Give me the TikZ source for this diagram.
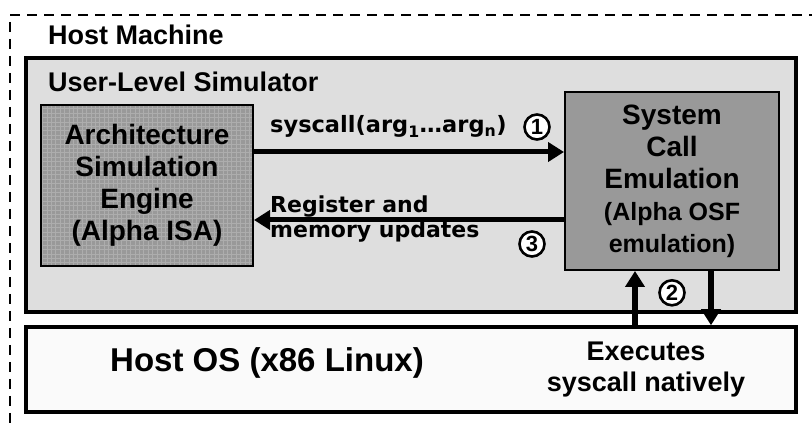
\documentclass[tikz,border=0pt]{standalone}
\usepackage{fontspec}
\setmainfont{Liberation Sans}
\newfontfamily\wideface{DejaVu Sans}
\usetikzlibrary{arrows.meta, positioning}
\tikzstyle{layer}=[draw, line width=3.5pt, inner sep=0pt]
\tikzstyle{unit}=[draw, line width=2pt, fill=black!40, inner sep=0pt, align=center, font=\bfseries\fontsize{28}{32}\selectfont]
\tikzstyle{numbered}=[circle, draw, line width=2.6pt, fill=white, minimum size=25pt, inner sep=0pt, font=\bfseries\fontsize{22}{22}\selectfont]
\tikzstyle{flow}=[line width=5pt, -{Triangle[length=16pt, width=19pt]}]
\tikzstyle{title}=[anchor=base west, inner sep=0pt, font=\bfseries\fontsize{27}{30}\selectfont]
\tikzstyle{flowlabel}=[inner sep=0pt, font=\wideface\bfseries\fontsize{22}{25}\selectfont]

\begin{document}
\begin{tikzpicture}[x=1pt, y=-1pt]
  \useasboundingbox (0,0) rectangle (812,430);
  \clip (0,0) rectangle (812,430);
  % machine boundary
  \draw[line width=2pt, dash pattern=on 10pt off 7pt] (10,15) -- (830,15);
  \draw[line width=2pt, dash pattern=on 10pt off 7pt] (10,22) -- (10,450);
  \node[title] (hm) at (48,45) {Host Machine};

  \node[layer, fill=black!13, minimum width=770pt, minimum height=254pt] (sim) at (411,185) {};
  \node[title] (simtxt) at (48,92) {User-Level Simulator};

  \node[unit, minimum width=212pt, minimum height=161pt,
        path picture={\draw[black!32, line width=0.5pt, step=4.4pt]
          (path picture bounding box.south west) grid (path picture bounding box.north east);}]
        (ase) at (147,185.5) {Architecture\\Simulation\\Engine\\(Alpha ISA)};
  \node[unit, minimum width=214pt, minimum height=178pt] (sce) at (672,181)
        {System\\Call\\Emulation\\{\fontsize{25}{31}\selectfont (Alpha OSF}\\{\fontsize{25}{31}\selectfont emulation)}};

  \node[layer, fill=black!2, minimum width=770pt, minimum height=85pt] (hostos) at (411,369.5) {};
  \node[anchor=base, inner sep=0pt, font=\bfseries\fontsize{33}{36}\selectfont] (ostxt) at (267,372) {Host OS (x86 Linux)};
  \node[align=center, inner sep=0pt, font=\bfseries\fontsize{27}{31}\selectfont] (exec) at (646,370) {Executes\\syscall natively};

  % syscall out and results back
  \draw[flow] ([yshift=33.5pt]ase.east) -- ([yshift=33.5pt]ase.east -| sce.west);
  \draw[flow] ([yshift=-34.5pt]ase.east -| sce.west) -- ([yshift=-34.5pt]ase.east);
  \node[flowlabel, anchor=base west, font=\wideface\bfseries\fontsize{22.5}{25}\selectfont] (args) at (270,133)
        {syscall(arg\textsubscript{1}…arg\textsubscript{n})};
  \node[flowlabel, anchor=north west, align=left] (upd) at (270,196) {Register and\\memory updates};

  % native execution on the host
  \draw[flow, line width=6pt] ([xshift=-37pt]sce.south |- hostos.north) -- ([xshift=-37pt]sce.south);
  \draw[flow, line width=6pt] ([xshift=39pt]sce.south) -- ([xshift=39pt]sce.south |- hostos.north);

  \node[numbered] (n1) at (537,127) {1};
  \node[numbered, below=8pt of sce] (n2) {2};
  \node[numbered] (n3) at (532,244) {3};
\end{tikzpicture}
\end{document}
